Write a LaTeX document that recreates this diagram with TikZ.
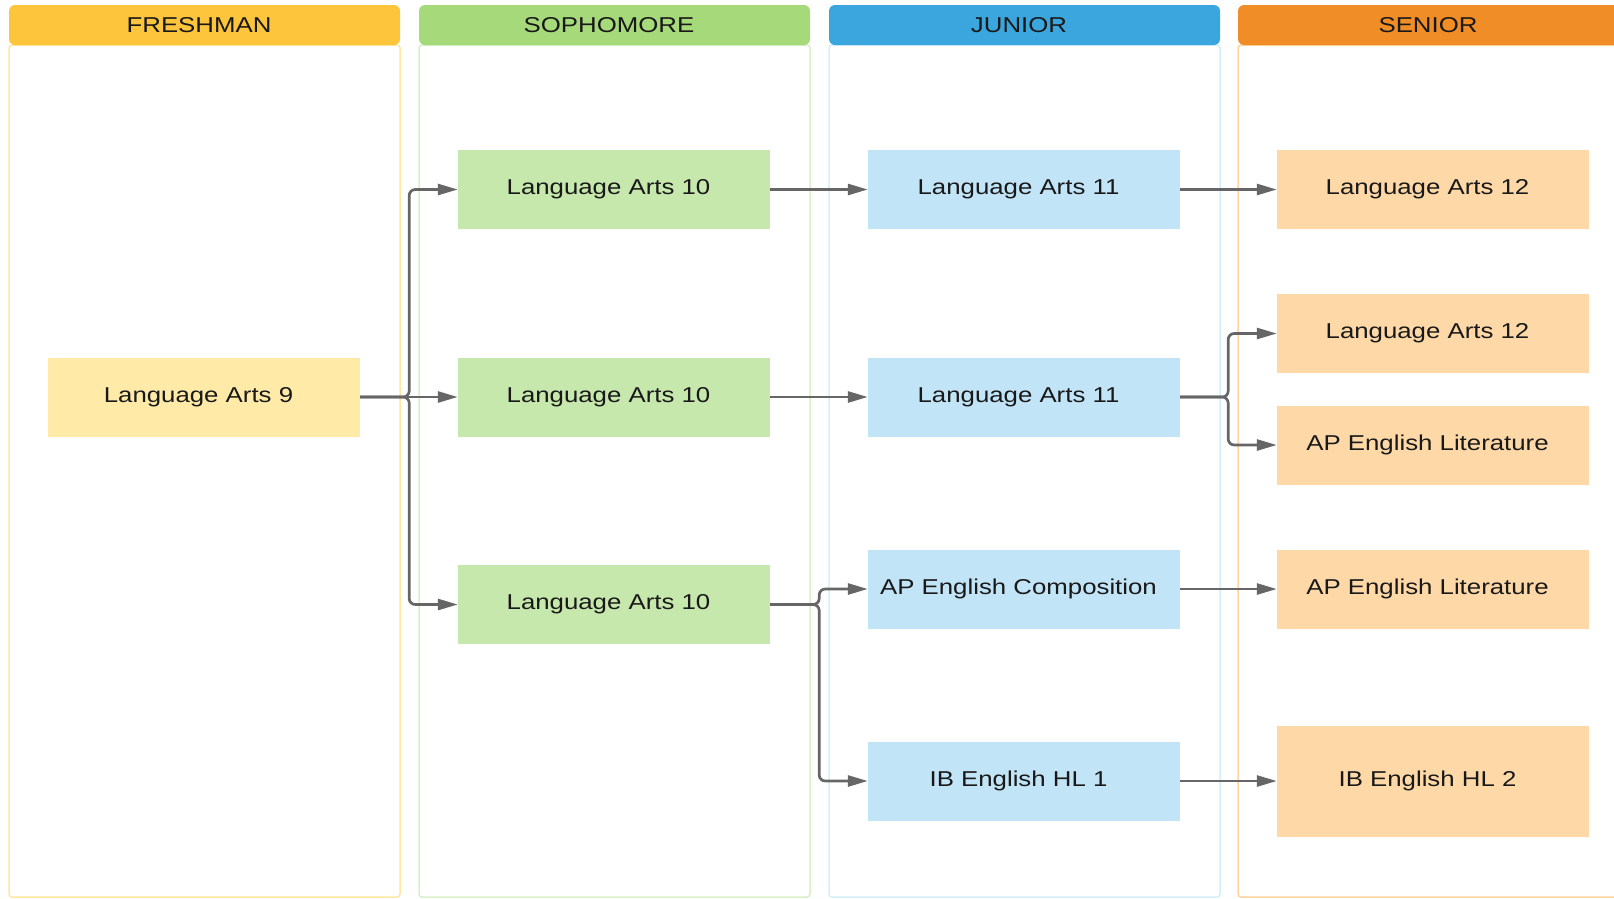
\documentclass[tikz,border=0pt]{standalone}
\usepackage{fontspec}
\setmainfont{Liberation Sans}
\newfontfamily\chartfont[FakeStretch=1.2]{Liberation Sans}
\usetikzlibrary{arrows.meta}

\definecolor{freshhead}{HTML}{FCC53C}
\definecolor{freshbox}{HTML}{FFEAA8}
\definecolor{freshedge}{HTML}{FFE7A0}
\definecolor{sophhead}{HTML}{A5D97A}
\definecolor{sophbox}{HTML}{C7E8AD}
\definecolor{sophedge}{HTML}{D9EFC8}
\definecolor{junhead}{HTML}{3BA6DD}
\definecolor{junbox}{HTML}{C2E4F7}
\definecolor{junedge}{HTML}{D6EEFA}
\definecolor{senhead}{HTML}{F08D26}
\definecolor{senbox}{HTML}{FED8A6}
\definecolor{senedge}{HTML}{FFD3A0}
\definecolor{flowgray}{HTML}{666666}

\tikzset{
	chartlabel/.style={font=\chartfont\fontsize{21.5}{26}\selectfont, text=black!90, execute at end node={\hspace*{11pt}}},
	course/.style={chartlabel, minimum width=312, minimum height=79, inner sep=0},
	flow/.style={draw=flowgray, line width=2.7, rounded corners=6, -{Triangle[length=20pt,width=11pt]}},
}

\begin{document}
\begin{tikzpicture}[x=1pt,y=-1pt]
				\clip (0,0) rectangle (1614,898);
				% the four year lanes
				\foreach \x/\name/\head/\edge in {9/FRESHMAN/freshhead/freshedge, 419/SOPHOMORE/sophhead/sophedge, 829/JUNIOR/junhead/junedge, 1238/SENIOR/senhead/senedge}{
					\draw[\edge, line width=1.5, rounded corners=3] (\x,45) rectangle ++(391,852);
					\fill[\head, rounded corners=6] (\x,5) rectangle ++(391,40);
					\node (head\x) [chartlabel, at={(\x+195.5,25)}] {\name};
				}
				% freshman
				\node (la9) [course, fill=freshbox, at={(204,397)}] {Language Arts 9};
				% sophomore
				\node (s1) [course, fill=sophbox, at={(614,189.5)}] {Language Arts 10};
				\node (s2) [course, fill=sophbox, at={(614,397)}] {Language Arts 10};
				\node (s3) [course, fill=sophbox, at={(614,604.5)}] {Language Arts 10};
				% junior
				\node (j1) [course, fill=junbox, at={(1024,189.5)}] {Language Arts 11};
				\node (j2) [course, fill=junbox, at={(1024,397)}] {Language Arts 11};
				\node (j3) [course, fill=junbox, at={(1024,589)}] {AP English Composition};
				\node (j4) [course, fill=junbox, at={(1024,781)}] {IB English HL 1};
				% senior
				\node (r1) [course, fill=senbox, at={(1433,189.5)}] {Language Arts 12};
				\node (r2) [course, fill=senbox, at={(1433,333.5)}] {Language Arts 12};
				\node (r3) [course, fill=senbox, at={(1433,445)}] {AP English Literature};
				\node (r4) [course, fill=senbox, at={(1433,589)}] {AP English Literature};
				\node (r5) [course, fill=senbox, minimum height=111, at={(1433,781)}] {IB English HL 2};
				% paths
				\draw[flow] (la9.east) -- ++(49,0) |- (s1.west);
				\draw[flow] (la9) -- (s2);
				\draw[flow] (la9.east) -- ++(49,0) |- (s3.west);
				\draw[flow] (s1) -- (j1);
				\draw[flow] (s2) -- (j2);
				\draw[flow] (s3.east) -- ++(49,0) |- (j3.west);
				\draw[flow] (s3.east) -- ++(49,0) |- (j4.west);
				\draw[flow] (j1) -- (r1);
				\draw[flow] (j2.east) -- ++(48,0) |- (r2.west);
				\draw[flow] (j2.east) -- ++(48,0) |- (r3.west);
				\draw[flow] (j3) -- (r4);
				\draw[flow] (j4) -- (r5);
\end{tikzpicture}
\end{document}
